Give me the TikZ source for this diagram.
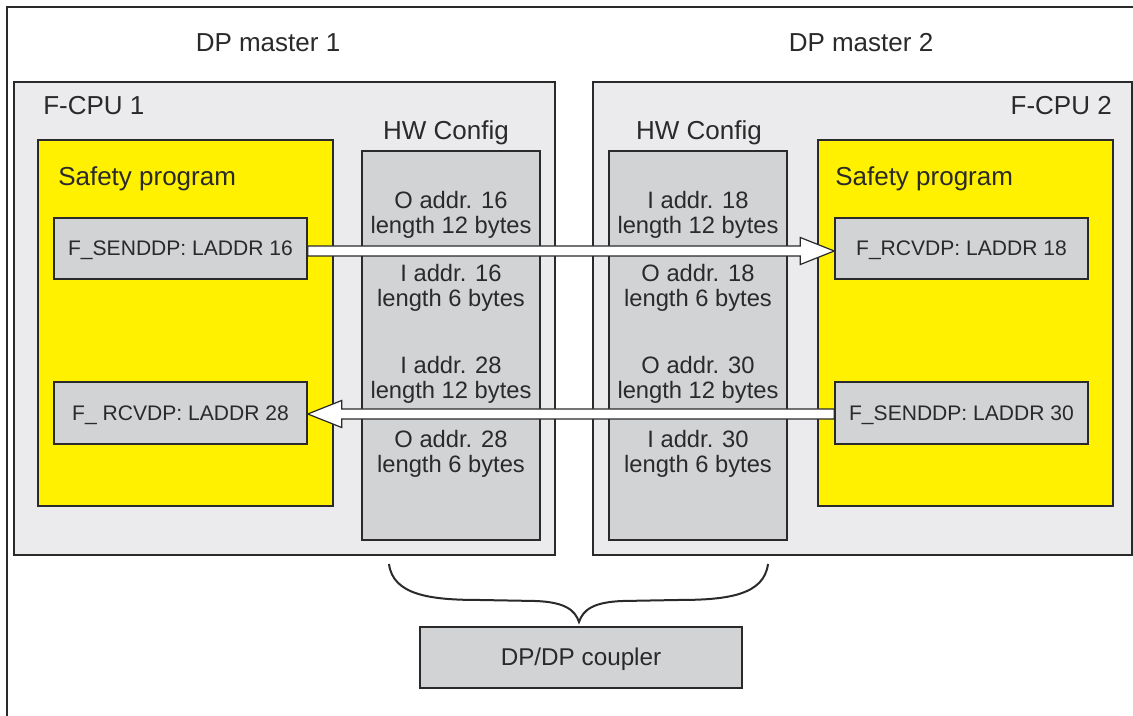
\documentclass[tikz,border=0pt]{standalone}
\usepackage{fontspec}
\setmainfont{Liberation Sans}
\usetikzlibrary{fit,calc}

\definecolor{ink}{HTML}{2A2A2A}
\definecolor{cpugray}{HTML}{EBEBED}
\definecolor{cellgray}{HTML}{D2D3D5}
\definecolor{safeyellow}{HTML}{FFF100}

\begin{document}
\begin{tikzpicture}[
  x=0.75pt, y=-0.75pt,
  outline/.style={draw=ink, line width=1.1pt, inner sep=0pt},
  cpubox/.style={outline, fill=cpugray},
  progbox/.style={outline, fill=safeyellow},
  hwcol/.style={outline, fill=cellgray},
  fnbox/.style={outline, fill=cellgray},
  fntext/.style={font=\fontsize{15.8}{19}\selectfont, text=ink, inner sep=0pt, anchor=base},
  biglabel/.style={font=\fontsize{19.5}{23}\selectfont, text=ink, inner sep=0pt},
  cellline/.style={font=\fontsize{17.8}{21}\selectfont, text=ink, inner sep=0pt, anchor=base},
  couplertext/.style={font=\fontsize{18.2}{22}\selectfont, text=ink, inner sep=0pt, anchor=base},
  fatarrow/.style={draw=ink, line width=0.9pt, fill=white, line join=miter},
  bracestyle/.style={draw=ink, line width=1.5pt},
]
\useasboundingbox (0,0) rectangle (1133,716);

% outer frame, running off the page to the right and bottom
\begin{scope}
  \clip (0,0) rectangle (1133,716);
  \draw[ink, line width=1.5pt] (7,760) -- (7,7) -- (1180,7);
\end{scope}

% master labels
\node[biglabel, anchor=base] (m1) at (268,52) {DP master 1};
\node[biglabel, anchor=base] (m2) at (861,52) {DP master 2};

% CPU enclosures
\node[cpubox, fit={(14,82) (555,555)}] (cpu1) {};
\node[cpubox, fit={(593,82) (1132,555)}] (cpu2) {};
\node[biglabel, anchor=base west] (cpu1lbl) at (43,115) {F-CPU 1};
\node[biglabel, anchor=base east] (cpu2lbl) at (1112,115) {F-CPU 2};

% safety programs
\node[progbox, fit={(38,140) (333,506)}] (prog1) {};
\node[progbox, fit={(818,140) (1113,506)}] (prog2) {};
\node[biglabel, anchor=base west] (prog1lbl) at (58,186) {Safety program};
\node[biglabel, anchor=base west] (prog2lbl) at (835,186) {Safety program};

% hardware configuration columns
\node[biglabel, anchor=base] (hw1lbl) at (446,140) {HW Config};
\node[biglabel, anchor=base] (hw2lbl) at (699,140) {HW Config};
\node[hwcol, fit={(362,151) (540,540)}] (hw1) {};
\node[hwcol, fit={(609,151) (787,540)}] (hw2) {};

% address entries, left column
\node[cellline] (a1) at (451,209) {O addr. 16};
\node[cellline] (a2) at (451,234) {length 12 bytes};
\node[cellline] (a3) at (451,282) {I addr. 16};
\node[cellline] (a4) at (451,307) {length 6 bytes};
\node[cellline] (a5) at (451,374) {I addr. 28};
\node[cellline] (a6) at (451,399) {length 12 bytes};
\node[cellline] (a7) at (451,448) {O addr. 28};
\node[cellline] (a8) at (451,473) {length 6 bytes};

% address entries, right column
\node[cellline] (b1) at (698,209) {I addr. 18};
\node[cellline] (b2) at (698,234) {length 12 bytes};
\node[cellline] (b3) at (698,282) {O addr. 18};
\node[cellline] (b4) at (698,307) {length 6 bytes};
\node[cellline] (b5) at (698,374) {O addr. 30};
\node[cellline] (b6) at (698,399) {length 12 bytes};
\node[cellline] (b7) at (698,448) {I addr. 30};
\node[cellline] (b8) at (698,473) {length 6 bytes};

% function blocks
\node[fnbox, fit={(54,218) (307,279)}] (s16) {};
\node[fnbox, fit={(54,382) (307,444)}] (r28) {};
\node[fnbox, fit={(835,218) (1088,279)}] (r18) {};
\node[fnbox, fit={(835,382) (1088,444)}] (s30) {};
\node[fntext] (s16t) at ($(s16.center)+(0,7.5)$) {F\_SENDDP: LADDR 16};
\node[fntext] (r28t) at ($(r28.center)+(0,7.5)$) {F\_ RCVDP: LADDR 28};
\node[fntext] (r18t) at ($(r18.center)+(0,7.5)$) {F\_RCVDP: LADDR 18};
\node[fntext] (s30t) at ($(s30.center)+(0,7.5)$) {F\_SENDDP: LADDR 30};

% data flow arrows
\coordinate (u0) at ($(s16.east)+(0,2.5)$);
\coordinate (u1) at ($(r18.west)+(0,2.5)$);
\filldraw[fatarrow] ($(u0)+(0,-5)$) -- ($(u1)+(-34,-5)$) -- ($(u1)+(-34,-13.5)$)
  -- (u1) -- ($(u1)+(-34,13.5)$) -- ($(u1)+(-34,5)$) -- ($(u0)+(0,5)$) -- cycle;

\coordinate (l0) at ($(s30.west)+(0,1)$);
\coordinate (l1) at ($(r28.east)+(0,1)$);
\filldraw[fatarrow] ($(l0)+(0,-5)$) -- ($(l1)+(34,-5)$) -- ($(l1)+(34,-13.5)$)
  -- (l1) -- ($(l1)+(34,13.5)$) -- ($(l1)+(34,5)$) -- ($(l0)+(0,5)$) -- cycle;

% coupler
\node[fnbox, fit={(420,627) (742,688)}] (coupler) {};
\node[couplertext] (couplert) at ($(coupler.center)+(0,8.5)$) {DP/DP coupler};

% brace grouping both masters onto the coupler
\coordinate (brL) at (389,564);
\coordinate (brR) at (768,564);
\coordinate (brT) at (579,622);
\draw[bracestyle] (brL) .. controls (393,595) and (430,600) .. (480,600)
  -- (535,601) .. controls (565,602) and (575,610) .. (brT)
  .. controls (583,610) and (593,602) .. (623,601)
  -- (678,600) .. controls (728,600) and (764,595) .. (brR);
\end{tikzpicture}
\end{document}
